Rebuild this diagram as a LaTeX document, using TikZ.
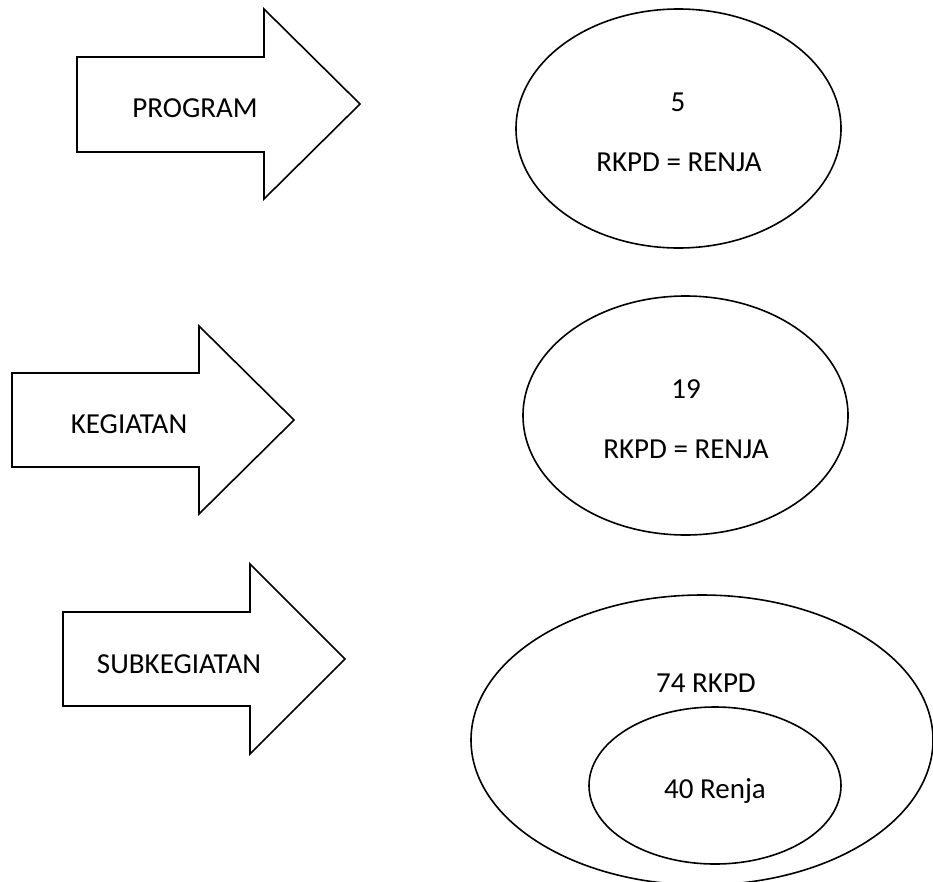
\documentclass[tikz,border=0pt]{standalone}
\usepackage{fontspec}
\setmainfont{Carlito}
\usetikzlibrary{shapes.geometric}
\begin{document}
\begin{tikzpicture}[x=1pt,y=-1pt,line width=1.6pt,line join=miter,
  blockarrow/.style={draw=black,fill=white},
  lbl/.style={font=\fontsize{29}{34}\selectfont,inner sep=0pt,anchor=base},
  oval/.style={draw=black,ellipse,inner sep=0pt}]
\useasboundingbox (0,0) rectangle (933,881);
\clip (0,0) rectangle (933,881);

% block arrows on the left
\draw[blockarrow] (77,57) -- (264,57) -- (264,9) -- (360,104) -- (264,199)
  -- (264,152) -- (77,152) -- cycle;
\draw[blockarrow] (12,373) -- (199,373) -- (199,326) -- (294,420) -- (199,514)
  -- (199,467) -- (12,467) -- cycle;
\draw[blockarrow] (63,612) -- (250,612) -- (250,564) -- (345,659) -- (250,754)
  -- (250,706) -- (63,706) -- cycle;

\node[lbl] (program) at (195,117) {PROGRAM};
\node[lbl] (kegiatan) at (129,433) {KEGIATAN};
\node[lbl] (subkeg) at (179,673) {SUBKEGIATAN};

% ovals on the right
\node[oval,minimum width=325pt,minimum height=239pt] (e1) at (678.5,128.5) {};
\node[oval,minimum width=325pt,minimum height=239pt] (e2) at (685.5,415.5) {};
\node[oval,minimum width=462pt,minimum height=290pt] (e3) at (702,740) {};
\node[oval,minimum width=252pt,minimum height=157pt] (e4) at (715,785.5) {};

\node[lbl] (n5) at (678,111) {5};
\node[lbl] (eq1) at (679,171) {RKPD = RENJA};
\node[lbl] (n19) at (686,398) {19};
\node[lbl] (eq2) at (686,458) {RKPD = RENJA};
\node[lbl] (rkpd) at (706,692) {74 RKPD};
\node[lbl] (renja) at (715,798) {40 Renja};
\end{tikzpicture}
\end{document}
